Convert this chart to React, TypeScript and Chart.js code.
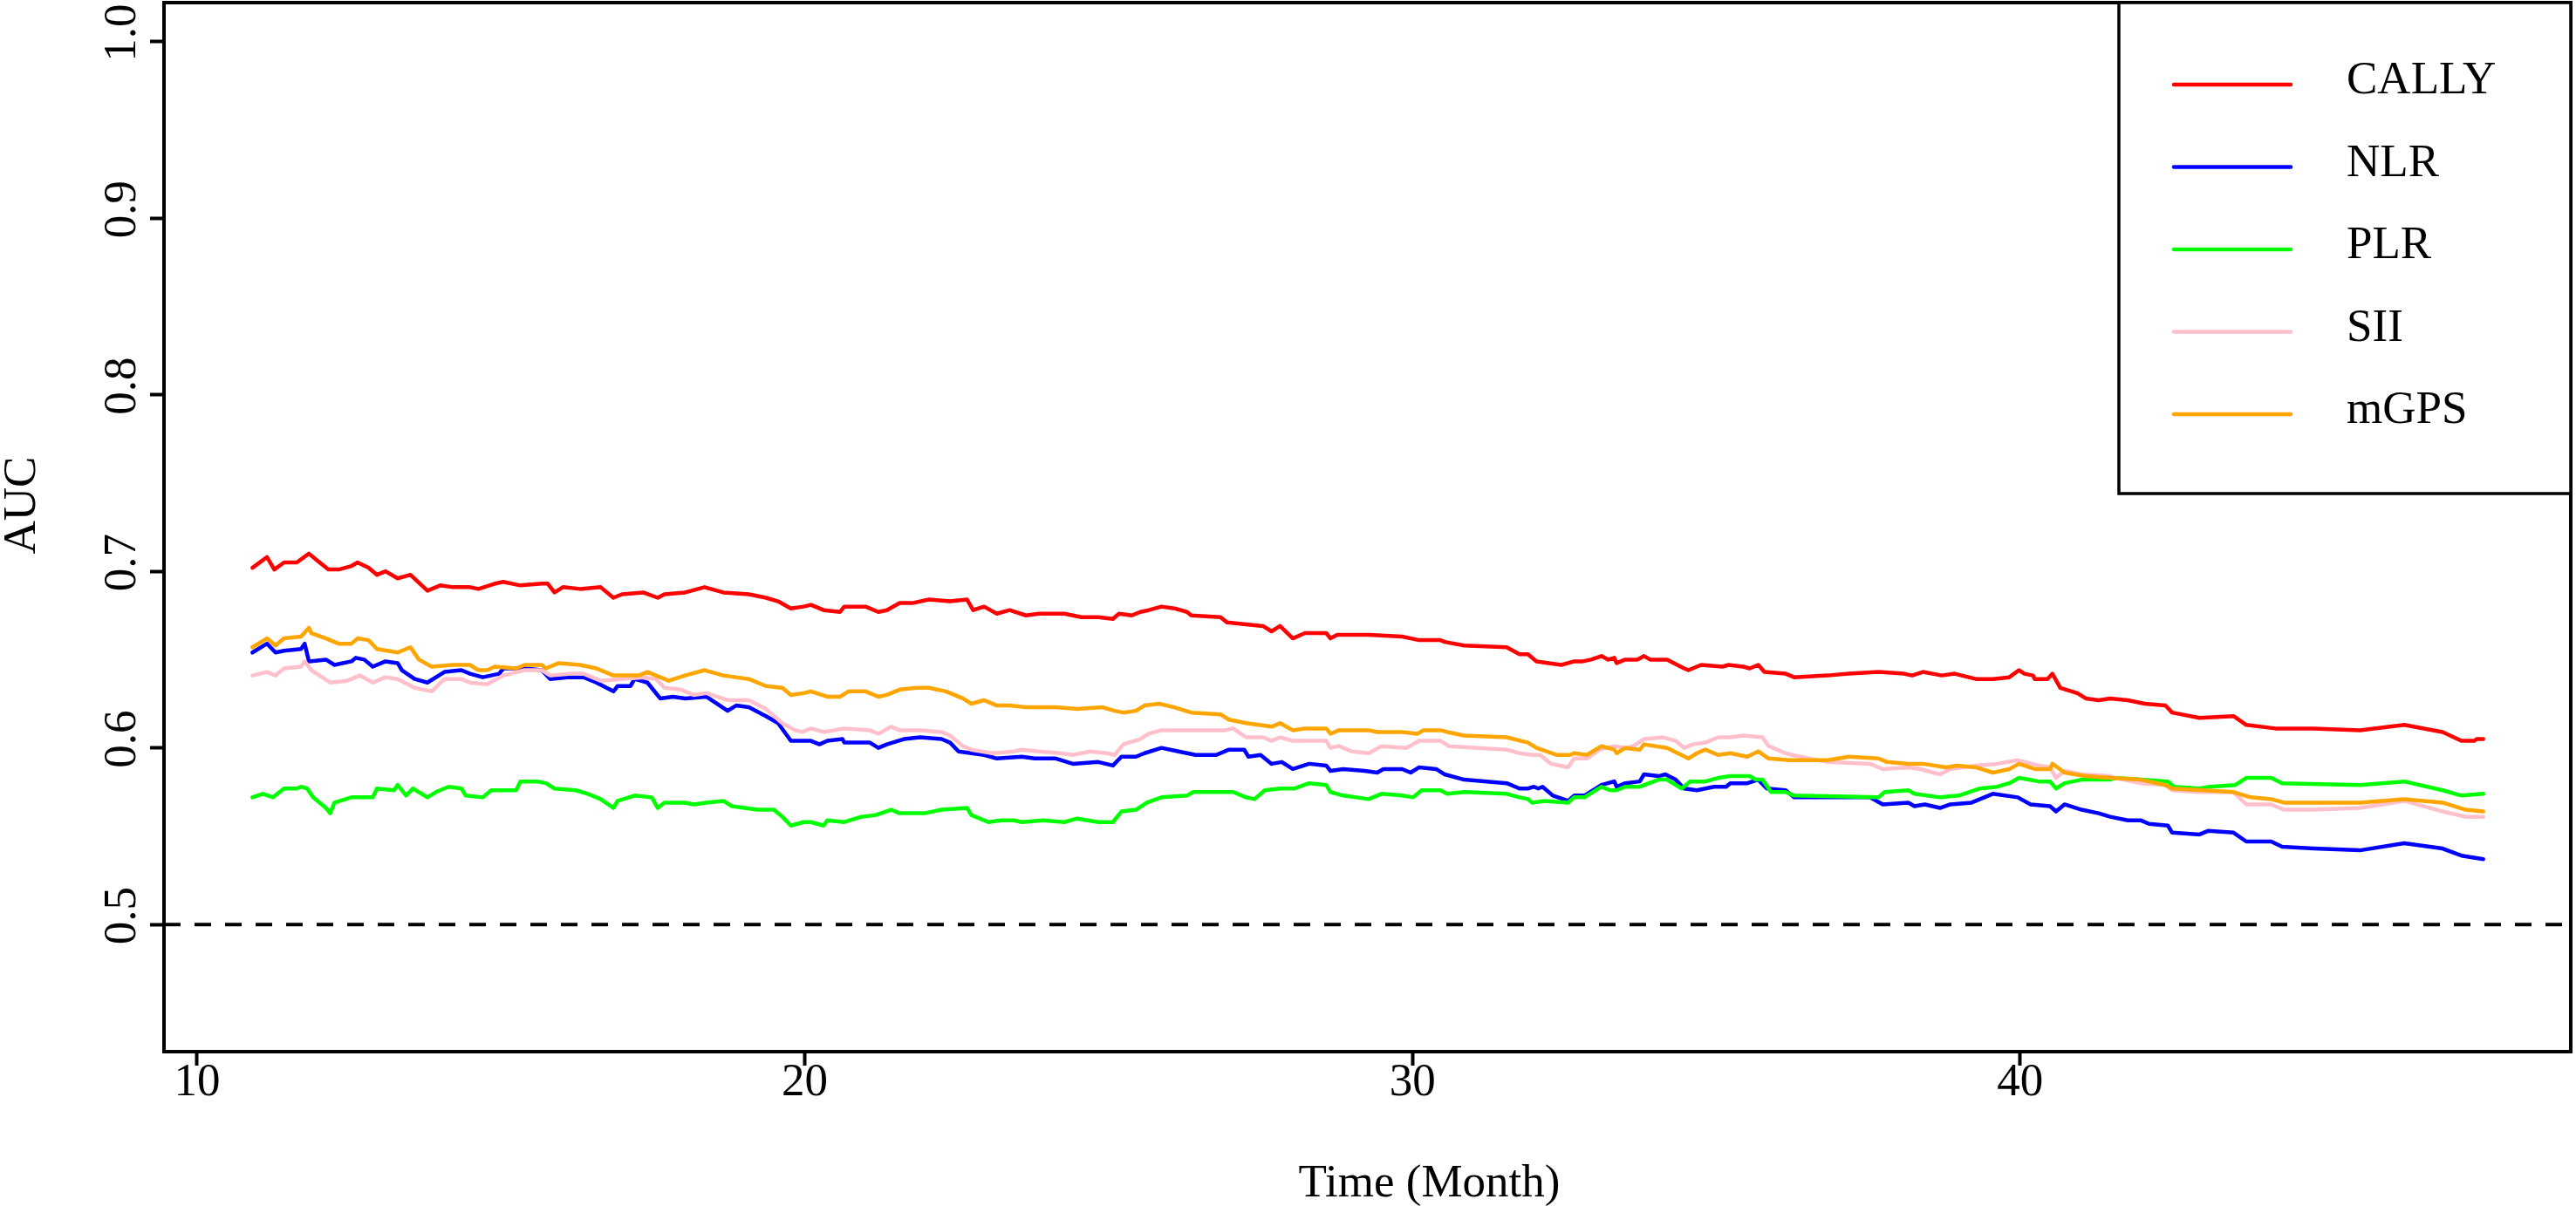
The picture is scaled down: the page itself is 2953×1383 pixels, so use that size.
import { useEffect, useRef } from "react";
import { Chart, registerables } from "chart.js";

Chart.register(...registerables);

const W = 2953;
const H = 1383;
const FONT = '"Liberation Serif", "Times New Roman", serif';

// axis ranges (R's 4% padding around the data / ylim)
const X_MIN = 9.455;
const X_MAX = 49.06;
const Y_MIN = 0.428;
const Y_MAX = 1.022;
const X_TICKS = [10, 20, 30, 40];
const Y_TICKS = [0.5, 0.6, 0.7, 0.8, 0.9, 1.0];
const REFERENCE_AUC = 0.5;

const callyMonth = [
  10.91, 11.15, 11.27, 11.43, 11.64, 11.84, 11.98, 12.16, 12.33, 12.54, 12.64, 12.82, 12.96, 13.1, 13.3, 13.51,
  13.79, 14.0, 14.21, 14.49, 14.63, 14.9, 15.04, 15.32, 15.67, 15.77, 15.88, 16.02, 16.3, 16.64, 16.85, 16.99,
  17.34, 17.58, 17.69, 18.03, 18.35, 18.66, 19.08, 19.36, 19.56, 19.77, 19.98, 20.1, 20.31, 20.58, 20.65, 21.0,
  21.21, 21.35, 21.56, 21.77, 22.04, 22.39, 22.67, 22.77, 22.95, 23.16, 23.37, 23.64, 23.85, 24.27, 24.55, 24.83,
  25.07, 25.17, 25.38, 25.52, 25.66, 25.87, 26.08, 26.29, 26.36, 26.84, 26.95, 27.26, 27.54, 27.68, 27.82, 28.03,
  28.23, 28.58, 28.65, 28.76, 29.28, 29.83, 30.11, 30.46, 30.53, 30.85, 31.55, 31.76, 31.9, 32.04, 32.45, 32.66,
  32.8, 32.94, 33.11, 33.22, 33.32, 33.36, 33.5, 33.7, 33.81, 33.91, 34.19, 34.47, 34.54, 34.75, 35.1, 35.2,
  35.44, 35.55, 35.69, 35.79, 36.14, 36.28, 36.83, 37.18, 37.67, 38.09, 38.22, 38.4, 38.71, 38.92, 39.27, 39.55,
  39.82, 39.98, 40.07, 40.21, 40.24, 40.45, 40.53, 40.66, 40.94, 41.08, 41.29, 41.48, 41.77, 42.05, 42.39, 42.5,
  42.95, 43.51, 43.72, 44.2, 44.83, 45.59, 46.32, 46.95, 47.26, 47.47, 47.51, 47.62,
];
const callyAuc = [
  0.702, 0.708, 0.701, 0.705, 0.705, 0.71, 0.706, 0.701, 0.701, 0.703, 0.705, 0.702, 0.698, 0.7, 0.696, 0.698,
  0.689, 0.692, 0.691, 0.691, 0.69, 0.693, 0.694, 0.692, 0.693, 0.693, 0.688, 0.691, 0.69, 0.691, 0.685, 0.687,
  0.688, 0.685, 0.687, 0.688, 0.691, 0.688, 0.687, 0.685, 0.683, 0.679, 0.68, 0.681, 0.678, 0.677, 0.68, 0.68,
  0.677, 0.678, 0.682, 0.682, 0.684, 0.683, 0.684, 0.678, 0.68, 0.676, 0.678, 0.675, 0.676, 0.676, 0.674, 0.674,
  0.673, 0.676, 0.675, 0.677, 0.678, 0.68, 0.679, 0.677, 0.675, 0.674, 0.671, 0.67, 0.669, 0.666, 0.669, 0.662,
  0.665, 0.665, 0.662, 0.664, 0.664, 0.663, 0.661, 0.661, 0.66, 0.658, 0.657, 0.653, 0.653, 0.649, 0.647, 0.649,
  0.649, 0.65, 0.652, 0.65, 0.651, 0.648, 0.65, 0.65, 0.652, 0.65, 0.65, 0.645, 0.644, 0.647, 0.646, 0.647,
  0.646, 0.645, 0.647, 0.643, 0.642, 0.64, 0.641, 0.642, 0.643, 0.642, 0.641, 0.643, 0.641, 0.642, 0.639, 0.639,
  0.64, 0.644, 0.642, 0.641, 0.639, 0.639, 0.642, 0.634, 0.631, 0.628, 0.627, 0.628, 0.627, 0.625, 0.624, 0.62,
  0.617, 0.618, 0.613, 0.611, 0.611, 0.61, 0.613, 0.609, 0.604, 0.604, 0.605, 0.605,
];

const nlrMonth = [
  10.91, 11.15, 11.29, 11.43, 11.71, 11.77, 11.84, 12.12, 12.26, 12.54, 12.61, 12.75, 12.89, 13.1, 13.3, 13.37,
  13.58, 13.79, 14.07, 14.35, 14.49, 14.7, 14.97, 15.04, 15.39, 15.67, 15.81, 16.09, 16.36, 16.57, 16.85, 16.92,
  17.13, 17.2, 17.41, 17.62, 17.83, 18.03, 18.38, 18.73, 18.87, 19.08, 19.36, 19.56, 19.77, 19.98, 20.1, 20.24,
  20.37, 20.62, 20.65, 21.07, 21.21, 21.35, 21.63, 21.9, 22.25, 22.39, 22.53, 22.74, 22.95, 23.16, 23.57, 23.78,
  24.13, 24.41, 24.83, 25.07, 25.21, 25.45, 25.59, 25.87, 26.15, 26.43, 26.77, 26.98, 27.23, 27.3, 27.5, 27.68,
  27.85, 28.03, 28.3, 28.58, 28.65, 28.86, 29.21, 29.42, 29.52, 29.83, 29.97, 30.11, 30.39, 30.53, 30.85, 31.55,
  31.76, 31.9, 32.0, 32.07, 32.14, 32.31, 32.56, 32.66, 32.83, 33.11, 33.32, 33.36, 33.5, 33.74, 33.81, 34.05,
  34.16, 34.33, 34.47, 34.68, 34.96, 35.16, 35.23, 35.51, 35.69, 35.83, 36.14, 36.28, 36.83, 37.53, 37.74, 38.16,
  38.26, 38.43, 38.68, 38.85, 39.2, 39.55, 39.96, 40.17, 40.49, 40.59, 40.73, 41.01, 41.29, 41.48, 41.77, 41.98,
  42.12, 42.43, 42.5, 42.95, 43.09, 43.51, 43.72, 44.13, 44.31, 44.83, 45.59, 46.32, 46.95, 47.26, 47.62,
];
const nlrAuc = [
  0.654, 0.659, 0.654, 0.655, 0.656, 0.659, 0.649, 0.65, 0.647, 0.649, 0.651, 0.65, 0.646, 0.649, 0.648, 0.644,
  0.639, 0.637, 0.643, 0.644, 0.642, 0.64, 0.642, 0.645, 0.645, 0.644, 0.639, 0.64, 0.64, 0.637, 0.632, 0.635,
  0.635, 0.639, 0.637, 0.628, 0.629, 0.628, 0.629, 0.621, 0.624, 0.623, 0.618, 0.614, 0.604, 0.604, 0.604, 0.602,
  0.604, 0.605, 0.603, 0.603, 0.6, 0.602, 0.605, 0.606, 0.605, 0.603, 0.598, 0.597, 0.596, 0.594, 0.595, 0.594,
  0.594, 0.591, 0.592, 0.59, 0.595, 0.595, 0.597, 0.6, 0.598, 0.596, 0.596, 0.599, 0.599, 0.595, 0.596, 0.591,
  0.592, 0.588, 0.591, 0.59, 0.587, 0.588, 0.587, 0.586, 0.588, 0.588, 0.586, 0.589, 0.588, 0.585, 0.582, 0.58,
  0.577, 0.577, 0.578, 0.577, 0.578, 0.573, 0.57, 0.573, 0.573, 0.579, 0.581, 0.578, 0.58, 0.581, 0.585, 0.584,
  0.585, 0.582, 0.577, 0.576, 0.578, 0.578, 0.58, 0.58, 0.582, 0.577, 0.576, 0.572, 0.572, 0.572, 0.568, 0.569,
  0.567, 0.568, 0.566, 0.568, 0.569, 0.574, 0.572, 0.568, 0.567, 0.564, 0.568, 0.565, 0.563, 0.561, 0.559, 0.559,
  0.557, 0.556, 0.552, 0.551, 0.553, 0.552, 0.547, 0.547, 0.544, 0.543, 0.542, 0.546, 0.543, 0.539, 0.537,
];

const plrMonth = [
  10.91, 11.08, 11.25, 11.43, 11.64, 11.71, 11.81, 11.91, 12.12, 12.19, 12.26, 12.54, 12.89, 12.96, 13.24, 13.3,
  13.44, 13.55, 13.79, 13.93, 14.14, 14.35, 14.42, 14.7, 14.84, 15.25, 15.32, 15.6, 15.74, 15.88, 16.23, 16.43,
  16.64, 16.85, 16.92, 17.2, 17.48, 17.58, 17.69, 18.03, 18.17, 18.38, 18.66, 18.8, 19.22, 19.49, 19.63, 19.77,
  19.98, 20.1, 20.31, 20.37, 20.65, 20.93, 21.17, 21.42, 21.56, 21.84, 21.97, 22.25, 22.67, 22.74, 23.02, 23.23,
  23.44, 23.57, 23.92, 24.27, 24.48, 24.83, 25.07, 25.21, 25.45, 25.63, 25.87, 26.29, 26.39, 26.91, 27.05, 27.26,
  27.4, 27.57, 27.82, 28.06, 28.3, 28.58, 28.65, 28.86, 29.28, 29.49, 29.83, 30.01, 30.15, 30.46, 30.57, 30.85,
  31.55, 31.76, 31.9, 31.97, 32.17, 32.56, 32.66, 32.83, 33.11, 33.25, 33.36, 33.5, 33.74, 34.05, 34.19, 34.43,
  34.57, 34.82, 35.03, 35.23, 35.55, 35.65, 35.76, 35.9, 36.14, 36.28, 37.67, 37.77, 38.16, 38.26, 38.68, 38.99,
  39.34, 39.62, 39.82, 39.98, 40.31, 40.49, 40.59, 40.73, 41.01, 41.48, 41.56, 41.98, 42.43, 42.53, 42.95, 43.12,
  43.54, 43.72, 44.13, 44.31, 45.59, 46.32, 46.95, 47.26, 47.62,
];
const plrAuc = [
  0.572, 0.574, 0.572, 0.577, 0.577, 0.578, 0.577, 0.572, 0.566, 0.563, 0.569, 0.572, 0.572, 0.577, 0.576, 0.579,
  0.573, 0.577, 0.572, 0.575, 0.578, 0.577, 0.573, 0.572, 0.576, 0.576, 0.581, 0.581, 0.58, 0.577, 0.576, 0.574,
  0.571, 0.566, 0.57, 0.573, 0.572, 0.566, 0.569, 0.569, 0.568, 0.569, 0.57, 0.567, 0.565, 0.565, 0.561, 0.556,
  0.558, 0.558, 0.556, 0.559, 0.558, 0.561, 0.562, 0.565, 0.563, 0.563, 0.563, 0.565, 0.566, 0.562, 0.558, 0.559,
  0.559, 0.558, 0.559, 0.558, 0.56, 0.558, 0.558, 0.564, 0.565, 0.569, 0.572, 0.573, 0.575, 0.575, 0.575, 0.572,
  0.571, 0.576, 0.577, 0.577, 0.58, 0.579, 0.575, 0.573, 0.571, 0.574, 0.573, 0.572, 0.576, 0.576, 0.574, 0.575,
  0.574, 0.572, 0.571, 0.569, 0.57, 0.569, 0.572, 0.572, 0.578, 0.576, 0.576, 0.578, 0.578, 0.582, 0.582, 0.577,
  0.581, 0.581, 0.583, 0.584, 0.584, 0.582, 0.582, 0.575, 0.575, 0.573, 0.572, 0.575, 0.576, 0.574, 0.572, 0.573,
  0.577, 0.578, 0.58, 0.583, 0.581, 0.581, 0.577, 0.58, 0.582, 0.582, 0.583, 0.582, 0.581, 0.578, 0.577, 0.578,
  0.579, 0.583, 0.583, 0.58, 0.579, 0.581, 0.576, 0.573, 0.574,
];

const siiMonth = [
  10.91, 11.15, 11.29, 11.43, 11.71, 11.77, 11.88, 12.19, 12.47, 12.68, 12.89, 13.1, 13.3, 13.58, 13.86, 14.07,
  14.35, 14.49, 14.77, 15.04, 15.39, 15.67, 15.81, 16.16, 16.36, 16.64, 16.99, 17.34, 17.55, 17.69, 17.96, 18.17,
  18.38, 18.73, 19.08, 19.36, 19.63, 19.84, 19.96, 20.1, 20.31, 20.65, 21.07, 21.21, 21.42, 21.56, 21.9, 22.25,
  22.39, 22.6, 22.74, 23.09, 23.44, 23.57, 23.85, 24.2, 24.41, 24.69, 24.97, 25.1, 25.24, 25.52, 25.66, 25.87,
  26.36, 26.91, 27.05, 27.26, 27.54, 27.68, 27.82, 28.03, 28.58, 28.65, 28.79, 29.0, 29.28, 29.49, 29.9, 30.11,
  30.46, 30.6, 31.55, 31.76, 31.97, 32.1, 32.28, 32.56, 32.66, 32.87, 33.08, 33.32, 33.5, 33.63, 33.81, 34.12,
  34.33, 34.47, 34.61, 34.82, 35.03, 35.23, 35.44, 35.76, 35.86, 36.14, 36.24, 36.83, 37.53, 37.74, 38.16, 38.36,
  38.68, 38.85, 39.27, 39.62, 39.96, 40.31, 40.49, 40.59, 40.73, 41.01, 41.48, 41.56, 41.98, 42.39, 42.5, 42.95,
  43.51, 43.72, 44.13, 44.34, 44.83, 45.59, 46.32, 46.95, 47.33, 47.62,
];
const siiAuc = [
  0.641, 0.643, 0.641, 0.645, 0.646, 0.649, 0.644, 0.637, 0.638, 0.641, 0.637, 0.64, 0.639, 0.634, 0.632, 0.639,
  0.639, 0.637, 0.636, 0.641, 0.644, 0.644, 0.641, 0.642, 0.642, 0.638, 0.639, 0.64, 0.639, 0.634, 0.633, 0.63,
  0.631, 0.627, 0.627, 0.622, 0.614, 0.61, 0.609, 0.611, 0.609, 0.611, 0.61, 0.608, 0.612, 0.61, 0.61, 0.609,
  0.607, 0.601, 0.599, 0.597, 0.598, 0.599, 0.598, 0.597, 0.596, 0.598, 0.597, 0.596, 0.602, 0.605, 0.608, 0.61,
  0.61, 0.61, 0.611, 0.606, 0.606, 0.604, 0.606, 0.604, 0.604, 0.6, 0.601, 0.598, 0.597, 0.601, 0.6, 0.604,
  0.604, 0.601, 0.599, 0.597, 0.596, 0.596, 0.591, 0.589, 0.594, 0.594, 0.599, 0.601, 0.6, 0.601, 0.605, 0.606,
  0.604, 0.6, 0.602, 0.603, 0.606, 0.606, 0.607, 0.606, 0.601, 0.597, 0.596, 0.592, 0.591, 0.588, 0.589, 0.588,
  0.585, 0.588, 0.59, 0.591, 0.593, 0.59, 0.589, 0.583, 0.587, 0.585, 0.584, 0.583, 0.58, 0.579, 0.576, 0.575,
  0.575, 0.568, 0.568, 0.565, 0.565, 0.566, 0.57, 0.564, 0.561, 0.561,
];

const mgpsMonth = [
  10.91, 11.15, 11.29, 11.43, 11.71, 11.84, 11.88, 12.12, 12.33, 12.54, 12.64, 12.82, 12.96, 13.3, 13.51, 13.65,
  13.86, 14.21, 14.49, 14.63, 14.77, 14.9, 15.25, 15.39, 15.67, 15.74, 15.95, 16.3, 16.57, 16.85, 17.27, 17.41,
  17.76, 18.03, 18.35, 18.66, 19.08, 19.36, 19.63, 19.77, 19.98, 20.1, 20.37, 20.58, 20.72, 21.0, 21.21, 21.35,
  21.56, 21.84, 22.04, 22.32, 22.6, 22.74, 22.95, 23.16, 23.37, 23.64, 24.13, 24.48, 24.9, 25.1, 25.24, 25.45,
  25.59, 25.83, 26.08, 26.36, 26.84, 26.98, 27.26, 27.47, 27.68, 27.82, 28.03, 28.23, 28.58, 28.65, 28.79, 29.28,
  29.42, 29.83, 30.08, 30.18, 30.46, 30.57, 30.85, 31.55, 31.9, 32.04, 32.38, 32.59, 32.66, 32.87, 33.11, 33.32,
  33.36, 33.5, 33.74, 33.81, 34.19, 34.54, 34.68, 34.82, 35.03, 35.23, 35.51, 35.69, 35.86, 36.21, 36.83, 37.18,
  37.67, 37.81, 38.16, 38.4, 38.78, 38.96, 39.27, 39.55, 39.82, 39.98, 40.24, 40.49, 40.53, 40.73, 41.08, 41.48,
  41.98, 42.39, 42.5, 43.02, 43.51, 43.79, 44.13, 44.34, 44.83, 45.59, 46.32, 46.95, 47.33, 47.62,
];
const mgpsAuc = [
  0.657, 0.662, 0.658, 0.662, 0.663, 0.668, 0.665, 0.662, 0.659, 0.659, 0.662, 0.661, 0.656, 0.654, 0.657, 0.65,
  0.646, 0.647, 0.647, 0.644, 0.644, 0.646, 0.645, 0.647, 0.647, 0.645, 0.648, 0.647, 0.645, 0.641, 0.641, 0.643,
  0.638, 0.641, 0.644, 0.641, 0.639, 0.635, 0.634, 0.63, 0.631, 0.632, 0.629, 0.629, 0.632, 0.632, 0.629, 0.63,
  0.633, 0.634, 0.634, 0.632, 0.628, 0.625, 0.627, 0.624, 0.624, 0.623, 0.623, 0.622, 0.623, 0.621, 0.62, 0.621,
  0.624, 0.625, 0.623, 0.62, 0.619, 0.616, 0.614, 0.613, 0.612, 0.614, 0.61, 0.611, 0.611, 0.608, 0.61, 0.61,
  0.609, 0.609, 0.608, 0.61, 0.61, 0.609, 0.607, 0.606, 0.603, 0.6, 0.596, 0.596, 0.597, 0.596, 0.601, 0.599,
  0.597, 0.6, 0.599, 0.602, 0.6, 0.594, 0.597, 0.599, 0.596, 0.597, 0.595, 0.598, 0.594, 0.593, 0.593, 0.595,
  0.594, 0.592, 0.591, 0.591, 0.589, 0.59, 0.589, 0.586, 0.588, 0.591, 0.588, 0.588, 0.591, 0.586, 0.584, 0.583,
  0.582, 0.579, 0.577, 0.576, 0.575, 0.572, 0.571, 0.569, 0.569, 0.569, 0.571, 0.569, 0.565, 0.564,
];

const SERIES = [
  { label: "CALLY", color: "#ff0000", month: callyMonth, auc: callyAuc },
  { label: "NLR", color: "#0000ff", month: nlrMonth, auc: nlrAuc },
  { label: "PLR", color: "#00ff00", month: plrMonth, auc: plrAuc },
  { label: "SII", color: "#ffc0cb", month: siiMonth, auc: siiAuc },
  { label: "mGPS", color: "#ffa500", month: mgpsMonth, auc: mgpsAuc },
];

// draws the R-style box, rotated y labels, axis titles and the boxed legend
const rDecor = {
  id: "rDecor",
  afterDraw(chart: any) {
    const { ctx, chartArea: a, scales } = chart;
    ctx.save();
    ctx.strokeStyle = "#000";
    ctx.lineWidth = 4;
    ctx.strokeRect(a.left, a.top, a.right - a.left, a.bottom - a.top);

    ctx.fillStyle = "#000";
    ctx.font = `53px ${FONT}`;
    ctx.textAlign = "center";
    ctx.textBaseline = "alphabetic";
    for (const v of Y_TICKS) {
      ctx.save();
      ctx.translate(a.left - 33, scales.y.getPixelForValue(v) - 10);
      ctx.rotate(-Math.PI / 2);
      ctx.fillText(v.toFixed(1), 0, 0);
      ctx.restore();
    }

    ctx.save();
    ctx.translate(a.left - 148, (a.top + a.bottom) / 2 - 25);
    ctx.rotate(-Math.PI / 2);
    ctx.fillText("AUC", 0, 0);
    ctx.restore();

    ctx.fillText("Time (Month)", (a.left + a.right) / 2 + 71, a.bottom + 166);

    // legend, top right corner
    const boxW = 518;
    const boxH = 563;
    const bx = a.right - boxW;
    const by = a.top;
    ctx.fillStyle = "#fff";
    ctx.fillRect(bx, by, boxW, boxH);
    ctx.lineWidth = 3.5;
    ctx.strokeRect(bx, by, boxW, boxH);
    ctx.textAlign = "left";
    ctx.lineCap = "round";
    SERIES.forEach((s, i) => {
      const ly = by + 94 + i * 94.5;
      ctx.strokeStyle = s.color;
      ctx.lineWidth = 4.5;
      ctx.beginPath();
      ctx.moveTo(bx + 63, ly);
      ctx.lineTo(bx + 197, ly);
      ctx.stroke();
      ctx.fillStyle = "#000";
      ctx.fillText(s.label, bx + 261, ly + 10);
    });
    ctx.restore();
  },
};

export default function App() {
  const canvasRef = useRef<HTMLCanvasElement>(null);
  const chartRef = useRef<Chart | null>(null);

  useEffect(() => {
    document.body.style.margin = "0";
    if (!canvasRef.current) return;
    if (chartRef.current) chartRef.current.destroy();

    const n = SERIES.length;
    const datasets: any[] = SERIES.map((s, i) => ({
      label: s.label,
      data: s.month.map((m, j) => ({ x: m, y: s.auc[j] })),
      borderColor: s.color,
      backgroundColor: s.color,
      borderWidth: 4.5,
      borderCapStyle: "round",
      borderJoinStyle: "round",
      pointRadius: 0,
      tension: 0,
      fill: false,
      order: n - i,
    }));
    datasets.push({
      label: "reference",
      data: [
        { x: X_MIN, y: REFERENCE_AUC },
        { x: X_MAX, y: REFERENCE_AUC },
      ],
      borderColor: "#000",
      borderWidth: 4,
      borderDash: [19, 16],
      pointRadius: 0,
      fill: false,
      order: n + 1,
    });

    chartRef.current = new Chart(canvasRef.current, {
      type: "line",
      data: { datasets },
      options: {
        responsive: false,
        animation: false,
        layout: { padding: { top: 3, right: 6, left: 0, bottom: 0 } },
        plugins: {
          legend: { display: false },
          tooltip: { enabled: false },
          title: { display: false },
        },
        scales: {
          x: {
            type: "linear",
            min: X_MIN,
            max: X_MAX,
            afterBuildTicks: (scale: any) => {
              scale.ticks = X_TICKS.map((v) => ({ value: v }));
            },
            afterFit: (scale: any) => {
              scale.height = H - 1206;
            },
            grid: {
              display: true,
              drawOnChartArea: false,
              drawTicks: true,
              tickLength: 16,
              tickWidth: 4,
              tickColor: "#000",
            },
            border: { display: false },
            ticks: {
              color: "#000",
              font: { family: FONT, size: 53, lineHeight: 1 },
              padding: -6,
              maxRotation: 0,
              autoSkip: false,
              callback: (v: any) => String(v),
            },
          },
          y: {
            type: "linear",
            min: Y_MIN,
            max: Y_MAX,
            afterBuildTicks: (scale: any) => {
              scale.ticks = Y_TICKS.map((v) => ({ value: v }));
            },
            afterFit: (scale: any) => {
              scale.width = 188;
            },
            grid: {
              display: true,
              drawOnChartArea: false,
              drawTicks: true,
              tickLength: 16,
              tickWidth: 4,
              tickColor: "#000",
            },
            border: { display: false },
            ticks: { display: false },
          },
        },
      },
      plugins: [rDecor],
    });

    return () => {
      if (chartRef.current) {
        chartRef.current.destroy();
        chartRef.current = null;
      }
    };
  }, []);

  return (
    <div style={{ width: W, height: H, background: "#fff" }}>
      <canvas ref={canvasRef} width={W} height={H} style={{ display: "block" }} />
    </div>
  );
}
